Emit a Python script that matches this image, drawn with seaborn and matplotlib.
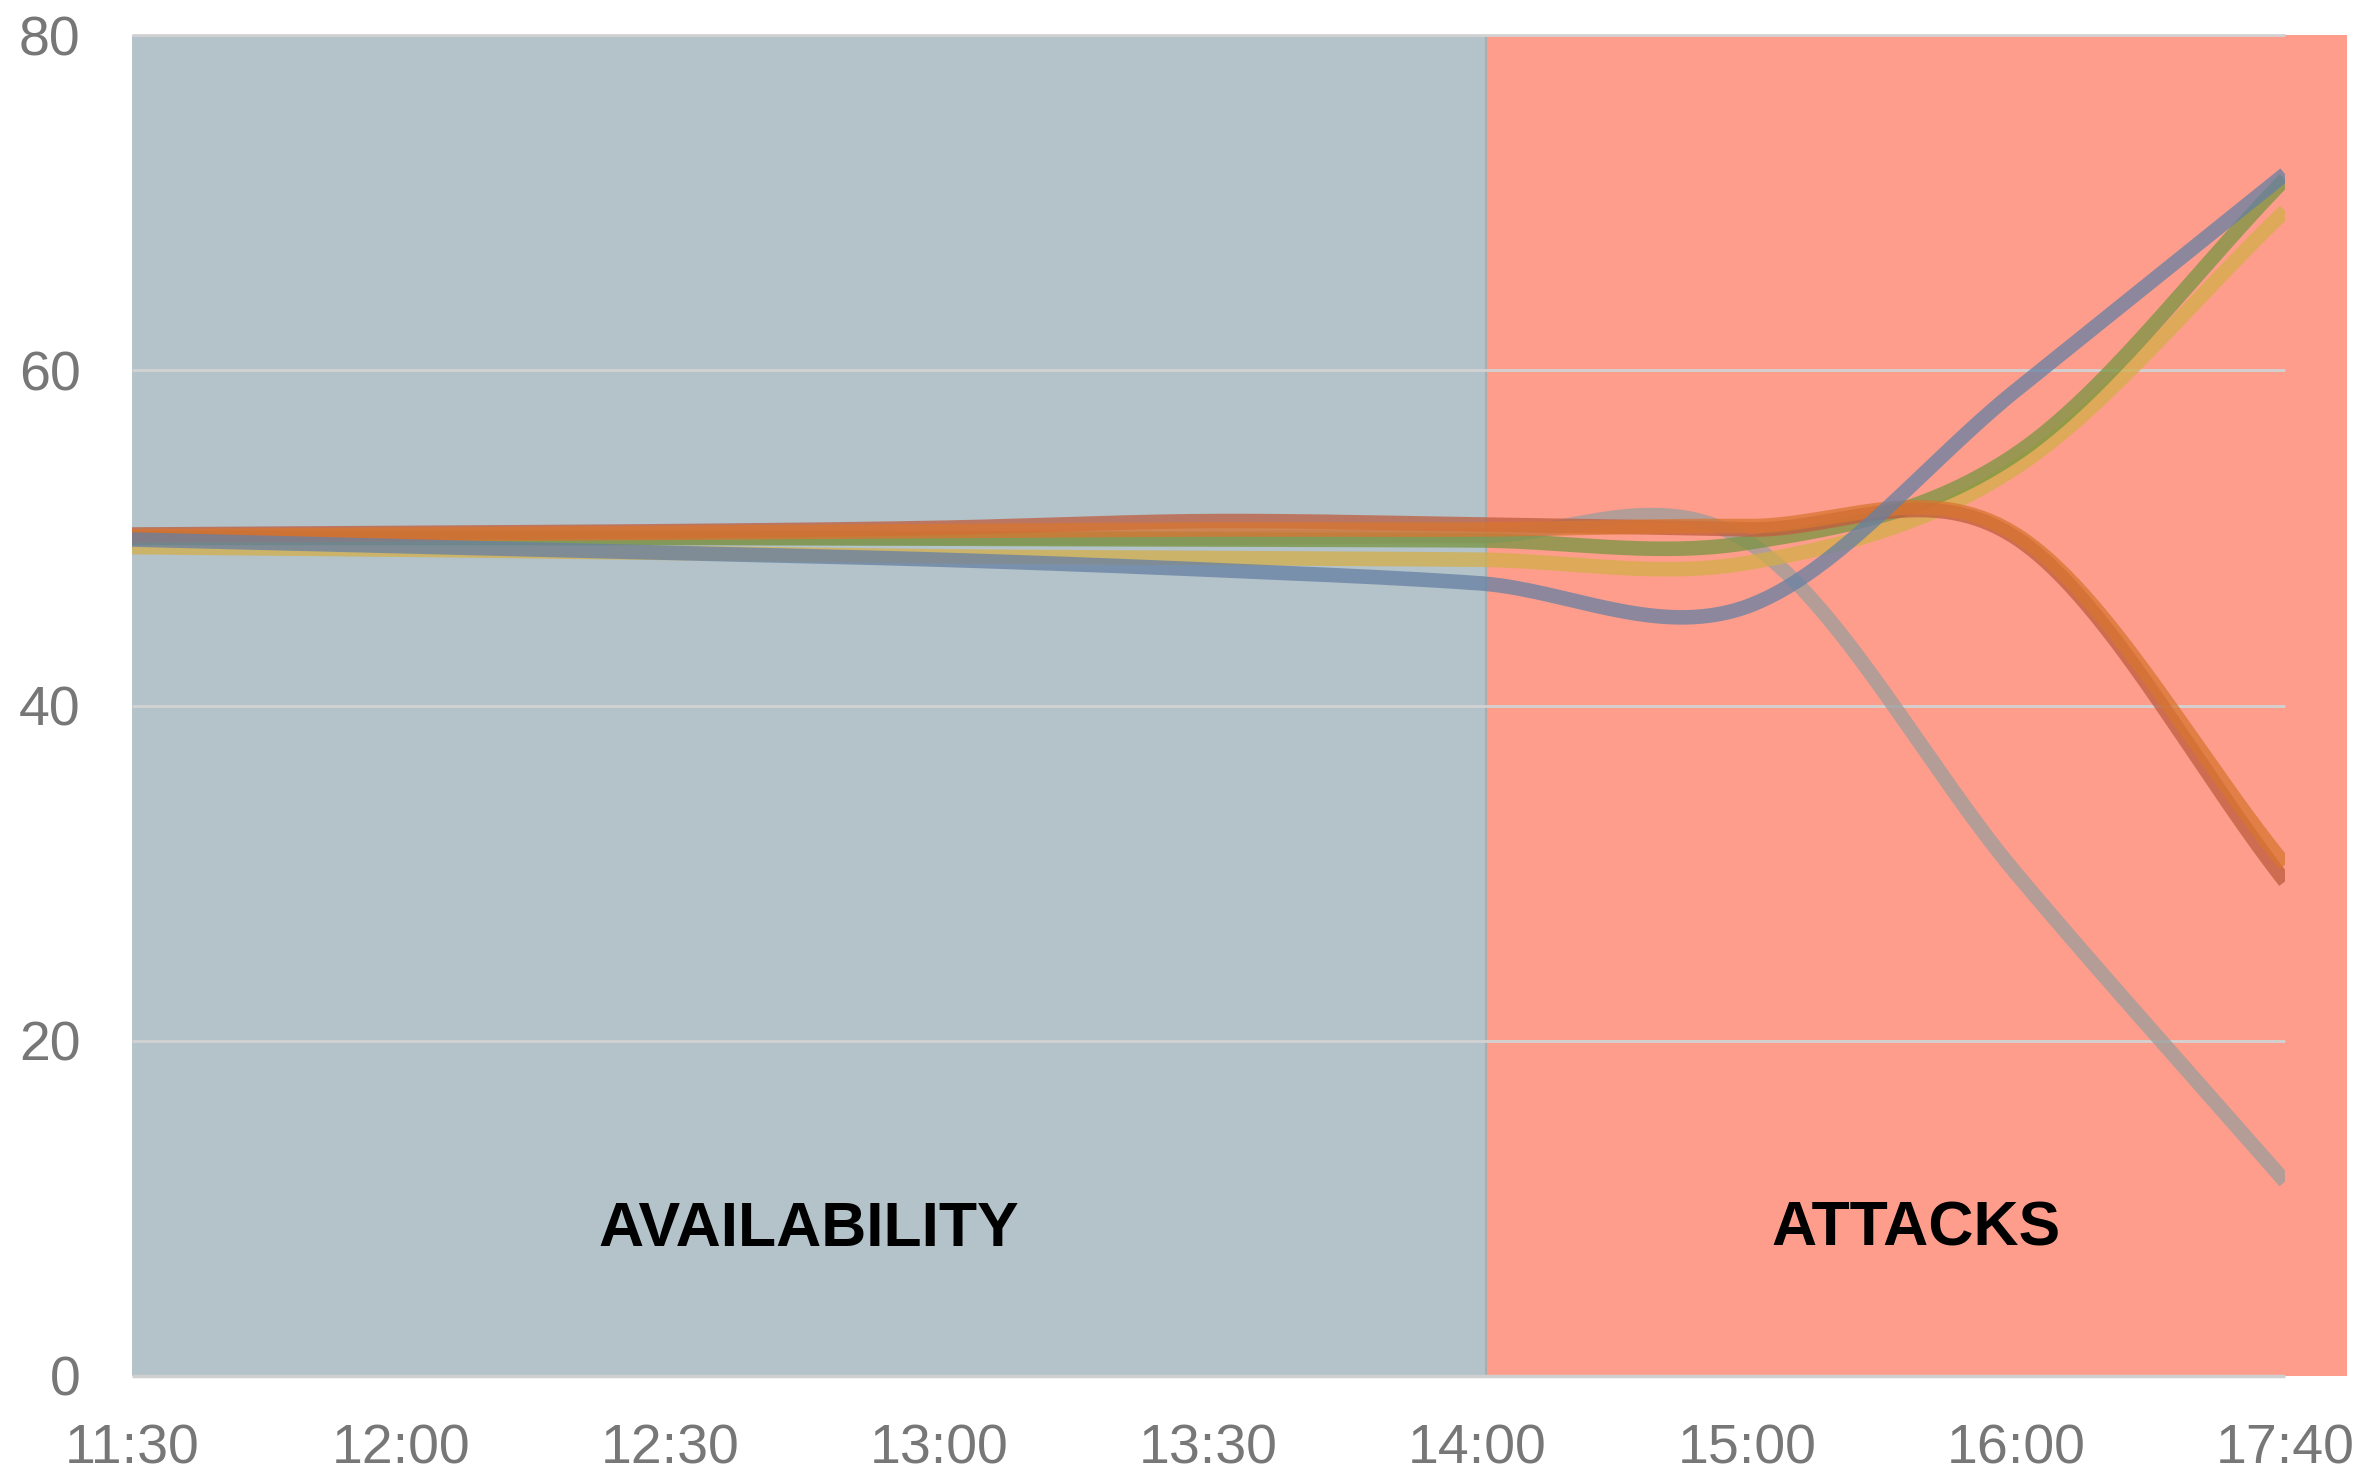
import numpy as np
import pandas as pd
import matplotlib
matplotlib.use("Agg")
import matplotlib.pyplot as plt
import seaborn as sns

# ---- data -------------------------------------------------------------
times = ["11:30", "12:00", "12:30", "13:00", "13:30", "14:00", "15:00", "16:00", "17:40"]

gray_vals   = [50.0, 50.0, 50.0, 50.0, 50.0, 50.1, 49.8, 30.0, 11.6]
yellow_vals = [49.45, 49.3, 49.1, 48.9, 48.8, 48.7, 48.5, 54.2, 69.5]
green_vals  = [50.0, 50.0, 50.0, 49.95, 49.9, 49.85, 49.7, 55.0, 71.4]
brick_vals  = [50.2, 50.3, 50.4, 50.6, 51.0, 50.8, 50.5, 50.0, 29.5]
orange_vals = [50.1, 50.2, 50.3, 50.4, 50.5, 50.5, 50.7, 50.2, 30.5]
blue_vals   = [49.9, 49.5, 49.1, 48.7, 48.1, 47.3, 45.9, 58.8, 71.7]

series = {
    "gray": gray_vals,
    "yellow": yellow_vals,
    "green": green_vals,
    "brick": brick_vals,
    "orange": orange_vals,
    "blue": blue_vals,
}
palette = {
    "gray": "#9C9C9C",
    "yellow": "#D4AE49",
    "green": "#789540",
    "brick": "#BF5C3E",
    "orange": "#D87530",
    "blue": "#6680A4",
}

ATTACK_START = 5.03       # panel boundary, just right of "14:00"
RED_END = 8.23            # red panel runs a little past the last category
BG_BLUE = "#B3C3C9"
BG_RED = "#FE9D8C"


def catmull_rom(vals, steps=60):
    """Smooth curve through the points (uniform Catmull-Rom spline)."""
    p = np.asarray(vals, dtype=float)
    ext = np.concatenate([[2 * p[0] - p[1]], p, [2 * p[-1] - p[-2]]])
    xs, ys = [], []
    for i in range(len(p) - 1):
        p0, p1, p2, p3 = ext[i], ext[i + 1], ext[i + 2], ext[i + 3]
        m1 = (p2 - p0) / 2.0
        m2 = (p3 - p1) / 2.0
        t = np.linspace(0, 1, steps, endpoint=(i == len(p) - 2))
        h00 = 2 * t**3 - 3 * t**2 + 1
        h10 = t**3 - 2 * t**2 + t
        h01 = -2 * t**3 + 3 * t**2
        h11 = t**3 - t**2
        ys.append(h00 * p1 + h10 * m1 + h01 * p2 + h11 * m2)
        xs.append(i + t)
    return np.concatenate(xs), np.concatenate(ys)


rows = []
for name, vals in series.items():
    xs, ys = catmull_rom(vals)
    rows.append(pd.DataFrame({"x": xs, "value": ys, "series": name}))
df = pd.concat(rows, ignore_index=True)

# ---- figure -----------------------------------------------------------
sns.set_theme(style="white")
plt.rcParams["font.family"] = ["Liberation Sans", "DejaVu Sans"]

fig = plt.figure(figsize=(23.64, 14.73), dpi=100)
ax = fig.add_axes([132 / 2364, 1 - 1376 / 1473, (2285 - 132) / 2364, (1376 - 35) / 1473])

ax.set_xlim(0, len(times) - 1)
ax.set_ylim(0, 80)

# background panels
ax.axvspan(0, ATTACK_START, color=BG_BLUE, zorder=0, lw=0)
red = ax.axvspan(ATTACK_START, RED_END, color=BG_RED, zorder=0, lw=0)
red.set_clip_on(False)
ax.axvline(ATTACK_START, color="#A9AFAF", lw=1.5, zorder=0.5)

# horizontal grid inside the category range
ax.hlines([20, 40, 60, 80], 0, len(times) - 1, colors="#D2D2D2", lw=2, zorder=1, clip_on=False)
ax.hlines([0], 0, len(times) - 1, colors="#CFCFCF", lw=2.5, zorder=1, clip_on=False)

sns.lineplot(
    data=df, x="x", y="value", hue="series",
    hue_order=list(series.keys()), palette=palette,
    estimator=None, sort=False, legend=False,
    linewidth=10.5, alpha=0.75, ax=ax, zorder=3,
)
for line in ax.get_lines():
    line.set_solid_capstyle("butt")
    line.set_solid_joinstyle("round")

ax.set_xticks(range(len(times)), times)
ax.set_yticks([0, 20, 40, 60, 80])
ax.tick_params(axis="both", length=0, labelsize=40, labelcolor="#777777")
ax.tick_params(axis="y", pad=37)
ax.tick_params(axis="x", pad=34)
ax.set_xlabel("")
ax.set_ylabel("")
ax.grid(False)
for s in ax.spines.values():
    s.set_visible(False)
ax.set_facecolor("white")

ax.text(ATTACK_START / 2, 8.75, "AVAILABILITY", ha="center", va="center",
        fontsize=45, fontweight="bold", color="black", zorder=4)
ax.text((ATTACK_START + RED_END) / 2, 8.75, "ATTACKS", ha="center", va="center",
        fontsize=45, fontweight="bold", color="black", zorder=4, clip_on=False)

fig.savefig("out.png", dpi=100, facecolor="white")
